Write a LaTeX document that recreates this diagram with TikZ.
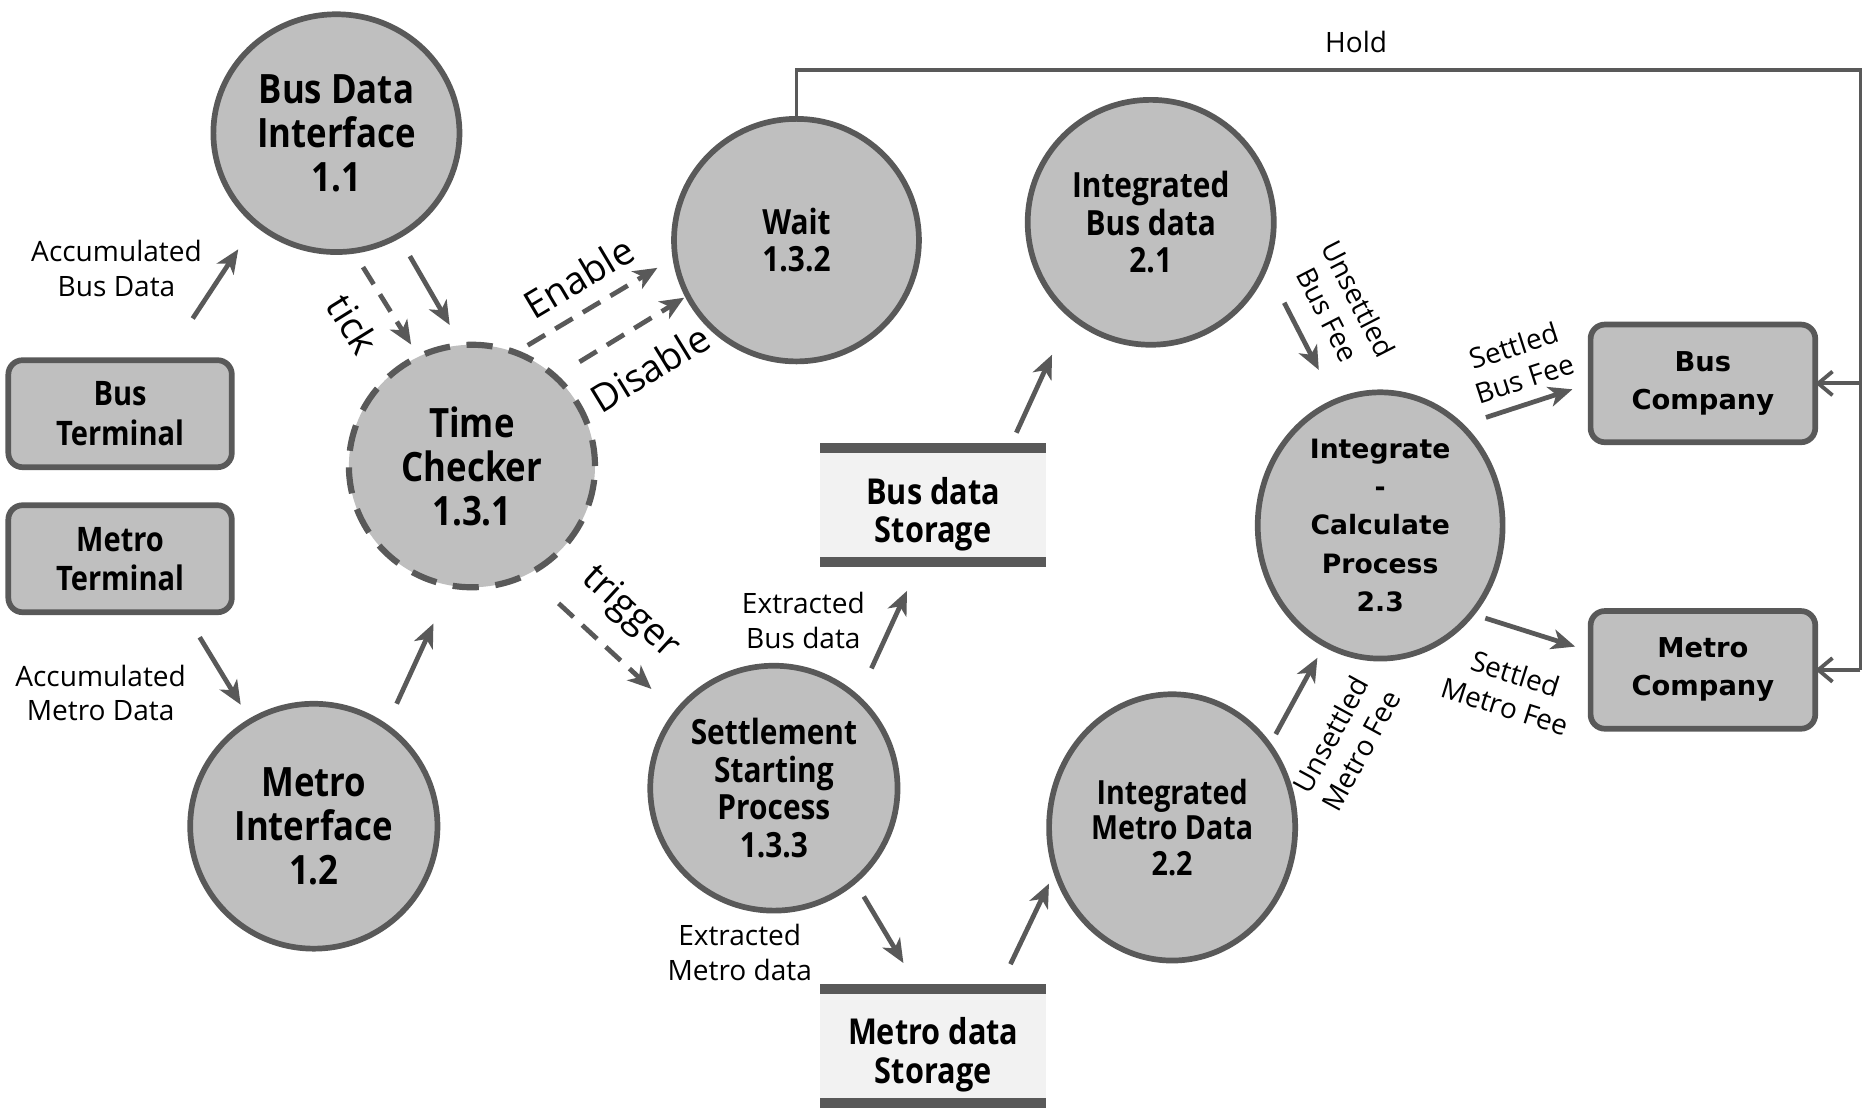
\documentclass[tikz,border=0pt]{standalone}
\usepackage{fontspec}
\setmainfont{Open Sans}
\newfontfamily\condsans[FakeStretch=0.86]{Open Sans}
\newfontfamily\widesans{DejaVu Sans}
\usepackage{tikz}
\usetikzlibrary{positioning,arrows.meta,shapes.geometric}
\usepackage{xcolor}
\definecolor{linegray}{HTML}{595959}
\definecolor{procgray}{HTML}{BFBFBF}
\definecolor{storegray}{HTML}{F2F2F2}

\tikzset{
  proc/.style={ellipse,draw=linegray,line width=2.4pt,fill=procgray,inner sep=0pt,outer sep=0pt,
    minimum width=103.5pt,minimum height=102pt,align=center,
    font=\condsans\bfseries\fontsize{14.6}{15.8}\selectfont},
  bigproc/.style={proc,font=\condsans\bfseries\fontsize{17}{18.5}\selectfont},
  wideproc/.style={proc,minimum height=112pt,font=\widesans\bfseries\fontsize{11.2}{16}\selectfont},
  extern/.style={rectangle,rounded corners=6pt,draw=linegray,line width=2.4pt,fill=procgray,
    inner sep=0pt,outer sep=0pt,align=center,minimum width=94pt,minimum height=45pt,
    font=\condsans\bfseries\fontsize{14.2}{16.5}\selectfont},
  company/.style={extern,minimum width=94.5pt,minimum height=49.5pt,
    font=\widesans\bfseries\fontsize{11.5}{16}\selectfont},
  store/.style={rectangle,fill=storegray,inner sep=0pt,outer sep=0pt,align=center,
    text height=31pt,text depth=0pt,
    minimum width=95pt,minimum height=48pt,font=\condsans\bfseries\fontsize{15}{16}\selectfont},
  bar/.style={draw=linegray,line width=4.2pt},
  flow/.style={draw=linegray,line width=2pt,-{Stealth[length=10pt,width=8.5pt,inset=2.8pt]}},
  ctrl/.style={flow,dash pattern=on 8.5pt off 5pt},
  holdline/.style={draw=linegray,line width=1.6pt},
  holdarrow/.style={holdline,-{Straight Barb[length=6pt,width=10pt]}},
  lbl/.style={font=\fontsize{11.8}{14.5}\selectfont,align=center,inner sep=1pt},
  biglbl/.style={font=\fontsize{16}{18}\selectfont,inner sep=1pt},
}

\begin{document}
\begin{tikzpicture}[x=0.5pt,y=-0.5pt]
    \useasboundingbox (0,0) rectangle (1568,934);

    % processes of level 1
    \node (tc) [bigproc,line width=2.6pt,dash pattern=on 11pt off 7pt] at (397,392) {Time\\Checker\\1.3.1};
    \node (bdi) [bigproc,minimum height=100pt,above=39pt of tc,xshift=-57pt] {Bus Data\\Interface\\1.1};
    \node (mi) [bigproc,minimum width=104pt,minimum height=103pt,below=49pt of tc,xshift=-66.5pt] {Metro\\Interface\\1.2};
    \node (busterm) [extern,left=49.25pt of tc,yshift=22pt] {Bus\\Terminal};
    \node (metroterm) [extern,below=16pt of busterm] {Metro\\Terminal};
    \node (wait) [proc,minimum width=103pt,right=33.25pt of tc,yshift=95pt] {Wait\\1.3.2};
    \node (ssp) [proc,minimum width=104pt,minimum height=103pt,below=128pt of wait,xshift=-9.5pt] {Settlement\\Starting\\Process\\1.3.3};

    % storages
    \node (busstore) [store,above=43.5pt of ssp,xshift=67pt] {Bus data\\Storage};
    \node (metrostore) [store,below=179.5pt of busstore] {Metro data\\Storage};
    \draw[bar] (busstore.north west) -- (busstore.north east);
    \draw[bar] (busstore.south west) -- (busstore.south east);
    \draw[bar] (metrostore.north west) -- (metrostore.north east);
    \draw[bar] (metrostore.south west) -- (metrostore.south east);

    % processes of level 2
    \node (ibd) [proc,minimum height=103pt,right=45.75pt of wait,yshift=7.5pt] {Integrated\\Bus data\\2.1};
    \node (imd) [proc,minimum height=112pt,below=147pt of ibd,xshift=9pt,
      font=\condsans\bfseries\fontsize{14}{15}\selectfont] {Integrated\\Metro Data\\2.2};
    \node (icp) [wideproc,minimum width=103pt,right=-6.75pt of ibd,yshift=-127.5pt] {Integrate\\-\\Calculate\\Process\\2.3};
    \node (buscomp) [company,right=37pt of icp,yshift=59.75pt] {Bus\\Company};
    \node (metrocomp) [company,below=71pt of buscomp] {Metro\\Company};

    % Arrows
    \draw[flow,shorten <=21pt,shorten >=13.3pt] ([xshift=19pt]busterm.north) -- (bdi.228)
      node[lbl,pos=0.667,left=8pt] (accbuslbl) {Accumulated\\Bus Data};
    \draw[flow,shorten <=12.3pt,shorten >=8pt] ([xshift=27.1pt]metroterm.south) -- (mi.121)
      node[lbl,pos=0.74,left=18pt] (accmetrolbl) {Accumulated\\Metro Data};
    \draw[flow,shorten <=9.8pt,shorten >=9.8pt] (bdi.-59) -- (tc.95);
    \draw[ctrl,shorten <=8pt,shorten >=6pt] (bdi.-82) -- (tc.116)
      node[biglbl,midway,sloped,below=8pt] (ticklbl) {tick};
    \draw[flow,shorten <=10.7pt,shorten >=17.6pt] (mi.54) -- (tc.-100);

    \draw[ctrl,shorten <=6pt,shorten >=8.75pt] (tc.69) -- (wait.188)
      node[biglbl,midway,sloped,above=5.5pt] (enablelbl) {Enable};
    \draw[ctrl,shorten <=12pt,shorten >=1.7pt] (tc.47) -- (wait.207)
      node[biglbl,pos=0.55,sloped,below=9.5pt] (disablelbl) {Disable};
    \draw[ctrl,shorten <=18pt,shorten >=14.5pt] (tc.-63) -- (ssp.142)
      node[biglbl,midway,sloped,above=7.6pt] (triggerlbl) {trigger};

    \draw[flow,shorten <=13.8pt,shorten >=13.2pt] (ssp.47) -- ([xshift=-5.5pt]busstore.south)
      node[lbl,pos=0.571,left=10pt] (extbuslbl) {Extracted\\Bus data};
    \draw[flow,shorten <=7.15pt,shorten >=18.4pt] ([xshift=32pt]busstore.north) -- (ibd.229);
    \draw[flow,shorten <=7.6pt,shorten >=12.75pt] (ssp.-49) -- ([xshift=-6pt]metrostore.north)
      node[lbl,pos=0.66,left=33.8pt] (extmetrolbl) {Extracted\\Metro data};
    \draw[flow,shorten <=11.6pt,shorten >=6.4pt] ([xshift=27.5pt]metrostore.north) -- (imd.200);

    \draw[flow,shorten <=17.2pt,shorten >=15pt] (ibd.-21) -- (icp.110)
      node[lbl,pos=0.47,sloped,above=7.5pt] (unsbuslbl) {Unsettled\\Bus Fee};
    \draw[flow,shorten <=5.6pt,shorten >=6.5pt] (imd.40) -- (icp.245)
      node[lbl,pos=0.34,sloped,below=13.8pt] (unsmetrolbl) {Unsettled\\Metro Fee};
    \draw[flow,shorten <=11pt,shorten >=8pt] (icp.51) -- (buscomp.west)
      node[lbl,pos=0.55,sloped,above=4pt] (setbuslbl) {Settled\\Bus Fee};
    \draw[flow,shorten <=6pt,shorten >=6.8pt] (icp.-44) -- ([yshift=7.75pt]metrocomp.west)
      node[lbl,pos=0.48,sloped,below=11.8pt] (setmetrolbl) {Settled\\Metro Fee};

    % Hold loop
    \coordinate [above=20.5pt of wait.north] (holdtop);
    \coordinate [right=19pt of buscomp.east] (holdright);
    \coordinate (holdbottom) at (holdright |- metrocomp.east);
    \draw[holdline] (wait.north) -- (holdtop) -| (holdbottom)
      node[lbl,pos=0.263,above=5.5pt] (holdlbl) {Hold};
    \draw[holdarrow] (holdright) -- (buscomp.east);
    \draw[holdarrow] (holdbottom) -- (metrocomp.east);

  \end{tikzpicture}
\end{document}
